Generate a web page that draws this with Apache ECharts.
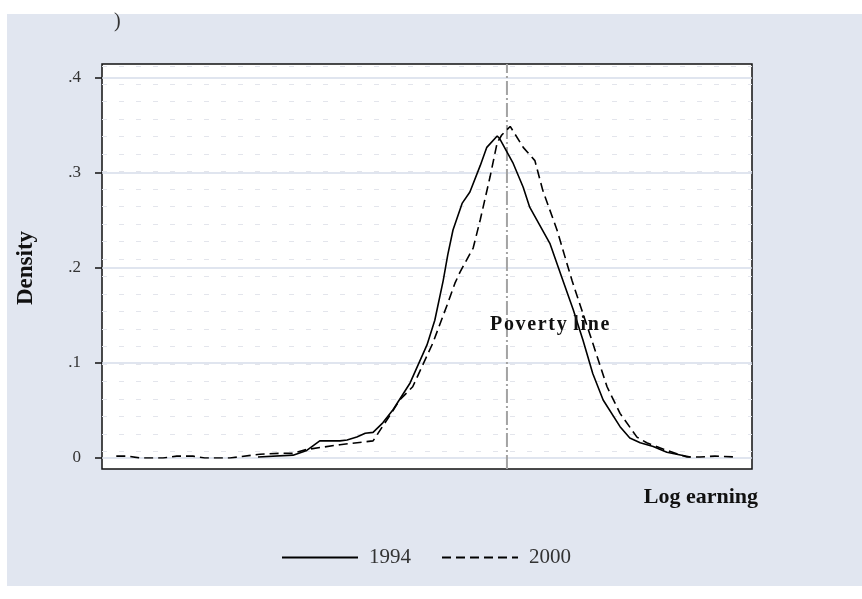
<!DOCTYPE html>
<html>
<head>
<meta charset="utf-8">
<script src="https://cdn.jsdelivr.net/npm/echarts@6/dist/echarts.min.js"></script>
<style>
  body { margin: 0; background: #fff; }
  #main {
    width: 862px; height: 599px;
    background: linear-gradient(#e1e6f0, #e1e6f0) 7px 14px / 855px 572px no-repeat, #fff;
  }
</style>
</head>
<body>
<div id="main"></div>
<script>
// log earning (x) / density (y)
var x1994 = [6.40, 6.94, 7.15, 7.35, 7.66, 7.77, 7.92, 8.05, 8.17, 8.32, 8.48, 8.74, 9.00, 9.12, 9.25, 9.32, 9.40, 9.54, 9.66, 9.82, 9.92, 10.08, 10.12, 10.32, 10.48, 10.58, 10.89, 11.08, 11.25, 11.40, 11.55, 11.71, 11.97, 12.12, 12.28, 12.48, 12.69, 13.05];
var y1994 = [0.001, 0.003, 0.008, 0.018, 0.018, 0.019, 0.022, 0.026, 0.027, 0.037, 0.051, 0.079, 0.119, 0.145, 0.187, 0.214, 0.240, 0.268, 0.280, 0.308, 0.327, 0.339, 0.336, 0.311, 0.285, 0.264, 0.226, 0.189, 0.156, 0.124, 0.089, 0.061, 0.033, 0.021, 0.016, 0.012, 0.006, 0.001];

var x2000 = [4.22, 4.40, 4.58, 4.94, 5.15, 5.40, 5.58, 5.97, 6.43, 6.78, 6.94, 7.15, 7.66, 8.17, 8.43, 8.58, 8.78, 9.09, 9.32, 9.43, 9.51, 9.71, 9.82, 9.97, 10.08, 10.15, 10.28, 10.48, 10.66, 10.78, 11.00, 11.23, 11.38, 11.55, 11.77, 11.97, 12.23, 12.38, 12.69, 13.00, 13.20, 13.43, 13.77];
var y2000 = [0.002, 0.002, 0.000, 0.000, 0.002, 0.002, 0.000, 0.000, 0.004, 0.005, 0.005, 0.009, 0.014, 0.018, 0.045, 0.061, 0.075, 0.121, 0.163, 0.184, 0.196, 0.221, 0.251, 0.296, 0.332, 0.340, 0.349, 0.327, 0.313, 0.282, 0.240, 0.187, 0.156, 0.121, 0.075, 0.047, 0.022, 0.016, 0.008, 0.001, 0.001, 0.002, 0.001];

var povertyLine = 10.23;
var yTicks = ['0', '.1', '.2', '.3', '.4'];
var legendNames = ['1994', '2000'];

function pairs(xs, ys) {
  return xs.map(function (x, i) { return [x, ys[i]]; });
}

var serif = '"Liberation Serif", "Times New Roman", serif';
var chart = echarts.init(document.getElementById('main'));

var option = {
  animation: false,
  textStyle: { fontFamily: serif },
  grid: [
    // outer frame, white plot region
    { left: 102, top: 64, width: 650, height: 405, show: true,
      backgroundColor: '#fff', borderColor: '#111', borderWidth: 1.5 },
    // data region 0 .. .4
    { left: 102, top: 78, width: 650, height: 380 }
  ],
  xAxis: [
    { gridIndex: 0, type: 'value', min: 4, max: 14,
      axisLine: { show: false }, axisTick: { show: false },
      axisLabel: { show: false }, splitLine: { show: false } },
    { gridIndex: 1, type: 'value', min: 4, max: 14,
      axisLine: { show: false }, axisTick: { show: false },
      axisLabel: { show: false }, splitLine: { show: false } }
  ],
  yAxis: [
    // faint texture rows
    { gridIndex: 0, type: 'value', min: 0, max: 405, interval: 17.5,
      axisLine: { show: false }, axisTick: { show: false }, axisLabel: { show: false },
      splitLine: { show: true, showMinLine: false, showMaxLine: false,
        lineStyle: { color: '#e3e5ec', width: 1.2, type: [5, 12] } } },
    { gridIndex: 1, type: 'value', min: 0, max: 0.4, interval: 0.1,
      name: 'Density', nameLocation: 'middle', nameRotate: 90, nameGap: 64,
      nameTextStyle: { fontFamily: serif, fontSize: 23, fontWeight: 'bold', color: '#111' },
      axisLine: { show: false },
      axisTick: { show: true, length: 7, lineStyle: { color: '#111', width: 1.5 } },
      axisLabel: { margin: 21, fontFamily: serif, fontSize: 17, color: '#333',
        formatter: function (v) { return yTicks[Math.round(v * 10)]; } },
      splitLine: { show: true, lineStyle: { color: '#d6dcea', width: 1.5 } } }
  ],
  legend: {
    data: legendNames,
    left: 276, top: 542,
    itemWidth: 76, itemHeight: 14, itemGap: 30,
    itemStyle: { opacity: 0 },
    textStyle: { fontFamily: serif, fontSize: 21, color: '#333', padding: [0, 0, 0, 6] }
  },
  graphic: [
    { type: 'text', x: 114, y: 22,
      style: { text: ')', font: '20px ' + serif, fill: '#333', textVerticalAlign: 'middle' } },
    { type: 'text', x: 758, y: 497,
      style: { text: 'Log earning', font: 'bold 22px ' + serif, fill: '#111',
        textAlign: 'right', textVerticalAlign: 'middle' } },
    { type: 'text', x: 490, y: 325, z: 10,
      style: { text: 'P\u200Ao\u200Av\u200Ae\u200Ar\u200At\u200Ay \u200Al\u200Ai\u200An\u200Ae',
        font: 'bold 20px ' + serif, fill: '#111', textVerticalAlign: 'middle' } }
  ],
  series: [
    { type: 'line', xAxisIndex: 0, yAxisIndex: 0, symbol: 'none', silent: true,
      data: [[povertyLine, 0], [povertyLine, 405]],
      lineStyle: { color: '#a3a3a3', width: 2, type: [14, 3, 2, 3] } },
    { name: '1994', type: 'line', xAxisIndex: 1, yAxisIndex: 1, symbol: 'none',
      data: pairs(x1994, y1994),
      lineStyle: { color: '#000', width: 1.6, type: 'solid' },
      itemStyle: { color: '#000' } },
    { name: '2000', type: 'line', xAxisIndex: 1, yAxisIndex: 1, symbol: 'none',
      data: pairs(x2000, y2000),
      lineStyle: { color: '#000', width: 1.6, type: [9, 5] },
      itemStyle: { color: '#000' } }
  ]
};

chart.setOption(option);
</script>
</body>
</html>
